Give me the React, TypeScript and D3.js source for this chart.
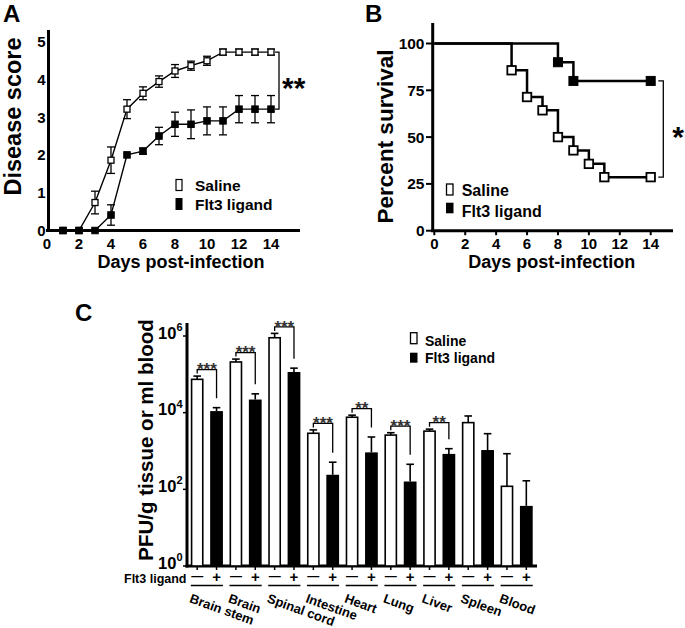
import React from "react";
import * as d3 from "d3";

const FF = "'Liberation Sans', Arial, Helvetica, sans-serif";

// ---------- Panel A data ----------
const days = [1, 2, 3, 4, 5, 6, 7, 8, 9, 10, 11, 12, 13, 14];
const salineScore = [0, 0, 0.74, 1.86, 3.21, 3.63, 3.94, 4.22, 4.36, 4.49, 4.72, 4.72, 4.72, 4.72];
const salineScoreErr = [0, 0, 0.3, 0.35, 0.25, 0.17, 0.15, 0.17, 0.12, 0.12, 0.08, 0.08, 0.08, 0.08];
const flt3Score = [0, 0, 0, 0.41, 2.0, 2.1, 2.5, 2.81, 2.81, 2.9, 2.9, 3.21, 3.21, 3.21];
const flt3ScoreErr = [0, 0, 0, 0.27, 0.03, 0.08, 0.23, 0.32, 0.38, 0.37, 0.37, 0.36, 0.36, 0.36];
const scoreTicks = [0, 1, 2, 3, 4, 5];
const dayTicks = [0, 2, 4, 6, 8, 10, 12, 14];

// ---------- Panel B data ----------
const salineSurvDays = [0, 5, 6, 7, 8, 9, 10, 11, 14];
const salineSurv = [100, 85.7, 71.4, 64.3, 50, 42.9, 35.7, 28.6, 28.6];
const flt3SurvDays = [0, 8, 9, 14];
const flt3Surv = [100, 90, 80, 80];
const survTicks = [0, 25, 50, 75, 100];

// ---------- Panel C data ----------
const organs = ["Brain stem", "Brain", "Spinal cord", "Intestine", "Heart", "Lung", "Liver", "Spleen", "Blood"];
const salineTiter = [7.4e4, 2.1e5, 9.0e5, 2.9e3, 7.6e3, 2.6e3, 3.3e3, 5.5e3, 1.2e2];
const salineTiterErr = [1.6e4, 4.0e4, 2.7e5, 6.5e2, 1.0e3, 4.0e2, 4.2e2, 2.7e3, 7.3e2];
const flt3Titer = [1.1e4, 2.2e4, 1.15e5, 2.4e2, 9.2e2, 1.6e2, 8.4e2, 1.06e3, 37];
const flt3TiterErr = [2.5e3, 9.0e3, 3.0e4, 2.7e2, 1.4e3, 2.9e2, 3.1e2, 1.77e3, 1.3e2];
const significance = ["***", "***", "***", "***", "**", "***", "**", "", ""];
const titerTicks = [1, 1e2, 1e4, 1e6];
const treatments = ["-", "+"];
const seriesNames = ["Saline", "Flt3 ligand"];

export default function App() {
  // Panel A scales
  const xA = d3.scaleLinear().domain([0, 14]).range([47, 271]);
  const yA = d3.scaleLinear().domain([0, 5]).range([230.5, 41.5]);
  const lineA = d3.line<number>().x((_, i) => xA(days[i])).y((v) => yA(v));

  // Panel B scales
  const xB = d3.scaleLinear().domain([0, 14]).range([434.3, 650.7]);
  const yB = d3.scaleLinear().domain([0, 100]).range([230.7, 43.5]);
  const stepB = d3.line<[number, number]>().x((d) => xB(d[0])).y((d) => yB(d[1])).curve(d3.curveStepAfter);
  const salinePts: [number, number][] = salineSurvDays.map((d, i) => [d, salineSurv[i]]);
  const flt3Pts: [number, number][] = flt3SurvDays.map((d, i) => [d, flt3Surv[i]]);

  // Panel C scales
  const yC = d3.scaleLog().domain([1, 1e6]).range([566, 336]);
  const xC = d3.scaleBand<string>().domain(organs).range([187.5, 536]).padding(0);
  const xInner = d3.scaleBand<string>().domain(treatments).range([0, xC.bandwidth()]).paddingInner(0.34).paddingOuter(0.17);
  const bw = xInner.bandwidth();

  const sq = (cx: number, cy: number, s: number, filled: boolean, sw: number, key: string) => (
    <rect key={key} x={cx - s / 2} y={cy - s / 2} width={s} height={s} fill={filled ? "#000" : "#fff"} stroke="#000" strokeWidth={sw} />
  );

  const errA = (vals: number[], errs: number[], pre: string) =>
    vals.map((v, i) =>
      errs[i] > 0.05 ? (
        <g key={pre + i} stroke="#000" strokeWidth={1.3}>
          <line x1={xA(days[i])} x2={xA(days[i])} y1={yA(v + errs[i])} y2={yA(v - errs[i])} />
          <line x1={xA(days[i]) - 4} x2={xA(days[i]) + 4} y1={yA(v + errs[i])} y2={yA(v + errs[i])} />
          <line x1={xA(days[i]) - 4} x2={xA(days[i]) + 4} y1={yA(v - errs[i])} y2={yA(v - errs[i])} />
        </g>
      ) : null
    );

  const lastS = salineScore[salineScore.length - 1];
  const lastF = flt3Score[flt3Score.length - 1];
  const brA = xA(14) + 8;
  const lastSB = salineSurv[salineSurv.length - 1];
  const lastFB = flt3Surv[flt3Surv.length - 1];
  const brB = xB(14) + 12.6;

  return (
    <svg width={685} height={628} style={{ position: "absolute", left: 0, top: 0, background: "#fff" }} fontFamily={FF} fontWeight="bold">
      {/* ================= Panel A ================= */}
      <text x={3} y={22} fontSize={24}>A</text>
      <text transform={`translate(20.7,116.5) rotate(-90)`} textAnchor="middle" fontSize={23.5}>Disease score</text>
      <line x1={48.5} x2={48.5} y1={30} y2={232} stroke="#000" strokeWidth={3} />
      <line x1={46} x2={300} y1={yA(0)} y2={yA(0)} stroke="#000" strokeWidth={3} />
      {scoreTicks.map((t) => (
        <text key={"ya" + t} x={45.5} y={yA(t) + 5.5} textAnchor="end" fontSize={15}>{t}</text>
      ))}
      {dayTicks.map((t) => (
        <text key={"xa" + t} x={xA(t)} y={249} textAnchor="middle" fontSize={15}>{t}</text>
      ))}
      <text x={181} y={268} textAnchor="middle" fontSize={18}>Days post-infection</text>
      <path d={lineA(salineScore) || ""} fill="none" stroke="#000" strokeWidth={1.4} />
      <path d={lineA(flt3Score) || ""} fill="none" stroke="#000" strokeWidth={1.4} />
      {errA(salineScore, salineScoreErr, "es")}
      {errA(flt3Score, flt3ScoreErr, "ef")}
      {flt3Score.map((v, i) => sq(xA(days[i]), yA(v), 6.5, true, 1, "mf" + i))}
      {salineScore.map((v, i) => sq(xA(days[i]), yA(v), 6, i < 2, 1.3, "ms" + i))}
      <path d={`M${brA - 4},${yA(lastS)}H${brA}V${yA(lastF)}H${brA - 4}`} fill="none" stroke="#000" strokeWidth={1.3} />
      <text x={brA + 3} y={(yA(lastS) + yA(lastF)) / 2 + 17} fontSize={30}>**</text>
      <rect x={176} y={179.5} width={6} height={11} fill="#fff" stroke="#000" strokeWidth={1.2} />
      <rect x={175.5} y={198} width={7} height={12} fill="#000" />
      <text x={195} y={191} fontSize={15.5}>{seriesNames[0]}</text>
      <text x={195} y={209.5} fontSize={15.5}>{seriesNames[1]}</text>

      {/* ================= Panel B ================= */}
      <text x={365} y={22} fontSize={24}>B</text>
      <text transform={`translate(393,136.5) rotate(-90)`} textAnchor="middle" fontSize={22.5}>Percent survival</text>
      <line x1={432.7} x2={432.7} y1={23} y2={232} stroke="#000" strokeWidth={3} />
      <line x1={431} x2={673} y1={yB(0)} y2={yB(0)} stroke="#000" strokeWidth={3} />
      {survTicks.map((t) => (
        <g key={"yb" + t}>
          <line x1={426} x2={432} y1={yB(t)} y2={yB(t)} stroke="#000" strokeWidth={2} />
          <text x={424.5} y={yB(t) + 5.5} textAnchor="end" fontSize={15.5}>{t}</text>
        </g>
      ))}
      {dayTicks.map((t) => (
        <g key={"xb" + t}>
          <line x1={xB(t)} x2={xB(t)} y1={yB(0)} y2={yB(0) + 4.5} stroke="#000" strokeWidth={2} />
          <text x={xB(t)} y={249} textAnchor="middle" fontSize={15}>{t}</text>
        </g>
      ))}
      <text x={551.7} y={267.5} textAnchor="middle" fontSize={18}>Days post-infection</text>
      <path d={stepB(salinePts) || ""} fill="none" stroke="#000" strokeWidth={2.5} />
      <path d={stepB(flt3Pts) || ""} fill="none" stroke="#000" strokeWidth={2.5} />
      {salinePts.slice(1).map((p, i) => sq(xB(p[0]), yB(p[1]), 8.5, false, 1.8, "sb" + i))}
      {flt3Pts.slice(1).map((p, i) => sq(xB(p[0]), yB(p[1]), 9, true, 1, "fb" + i))}
      <path d={`M${brB - 5},${yB(lastFB)}H${brB}V${yB(lastSB)}H${brB - 5}`} fill="none" stroke="#000" strokeWidth={1.3} />
      <text x={brB + 9} y={(yB(lastFB) + yB(lastSB)) / 2 + 18} fontSize={30}>*</text>
      <rect x={446.5} y={184} width={6.5} height={11} fill="#fff" stroke="#000" strokeWidth={1.3} />
      <rect x={446} y={202.7} width={7.5} height={10.6} fill="#000" />
      <text x={461.7} y={195.8} fontSize={16}>{seriesNames[0]}</text>
      <text x={461.7} y={216.5} fontSize={16}>{seriesNames[1]}</text>

      {/* ================= Panel C ================= */}
      <text x={75} y={321} fontSize={24}>C</text>
      <text transform={`translate(153,440) rotate(-90)`} textAnchor="middle" fontSize={20.5}>PFU/g tissue or ml blood</text>
      <line x1={187} x2={187} y1={323} y2={567.5} stroke="#000" strokeWidth={3} />
      <line x1={185.5} x2={537} y1={yC(1)} y2={yC(1)} stroke="#000" strokeWidth={3} />
      {titerTicks.map((t) => {
        const e = Math.round(Math.log10(t));
        return (
          <g key={"yc" + e}>
            <line x1={183} x2={187} y1={yC(t)} y2={yC(t)} stroke="#000" strokeWidth={1.5} />
            <text x={182.5} y={yC(t) + 2.5} textAnchor="end" fontSize={16.5}>
              10<tspan dy={-7.5} fontSize={11}>{e}</tspan>
            </text>
          </g>
        );
      })}
      {organs.map((o, i) => {
        const gx = xC(o) || 0;
        const xs = gx + (xInner("-") || 0);
        const xf = gx + (xInner("+") || 0);
        const cs = xs + bw / 2;
        const cf = xf + bw / 2;
        const capS = yC(salineTiter[i] + salineTiterErr[i]);
        const capF = yC(flt3Titer[i] + flt3TiterErr[i]);
        const brY = capS - 6.5;
        return (
          <g key={"org" + i}>
            <g stroke="#000" strokeWidth={1.6}>
              <line x1={cs} x2={cs} y1={yC(salineTiter[i])} y2={capS} />
              <line x1={cs - 3.8} x2={cs + 3.8} y1={capS} y2={capS} />
              <line x1={cf} x2={cf} y1={yC(flt3Titer[i])} y2={capF} />
              <line x1={cf - 3.8} x2={cf + 3.8} y1={capF} y2={capF} />
            </g>
            <rect x={xs + 0.8} y={yC(salineTiter[i])} width={bw - 1.6} height={yC(1) - yC(salineTiter[i])} fill="#fff" stroke="#000" strokeWidth={1.6} />
            <rect x={xf} y={yC(flt3Titer[i])} width={bw} height={yC(1) - yC(flt3Titer[i])} fill="#000" />
            {significance[i] ? (
              <g>
                <path d={`M${cs},${brY + 4}V${brY}H${cf}V${capF - 9.5}`} fill="none" stroke="#000" strokeWidth={1.3} />
                <text x={(cs + cf) / 2} y={brY + 5.8} textAnchor="middle" fontSize={17} fill="#333">{significance[i]}</text>
              </g>
            ) : null}
            <line x1={cs} x2={cs} y1={yC(1)} y2={yC(1) + 4} stroke="#000" strokeWidth={1.5} />
            <line x1={cf} x2={cf} y1={yC(1)} y2={yC(1) + 4} stroke="#000" strokeWidth={1.5} />
            <text x={cs} y={580} textAnchor="middle" fontSize={12}>—</text>
            <text x={cf} y={581.5} textAnchor="middle" fontSize={15}>+</text>
            <line x1={xs} x2={xf + bw} y1={585.5} y2={585.5} stroke="#000" strokeWidth={1.4} />
            <text transform={`translate(${xs - 2},602) rotate(20)`} fontSize={13}>{o}</text>
          </g>
        );
      })}
      <text x={186.5} y={582.7} textAnchor="end" fontSize={12.5}>Flt3 ligand</text>
      <rect x={410.5} y={332.7} width={6.5} height={11} fill="#fff" stroke="#000" strokeWidth={1.3} />
      <rect x={410} y={352.7} width={7.5} height={10} fill="#000" />
      <text x={425} y={345.7} fontSize={14}>{seriesNames[0]}</text>
      <text x={425} y={363.3} fontSize={14}>{seriesNames[1]}</text>
    </svg>
  );
}
